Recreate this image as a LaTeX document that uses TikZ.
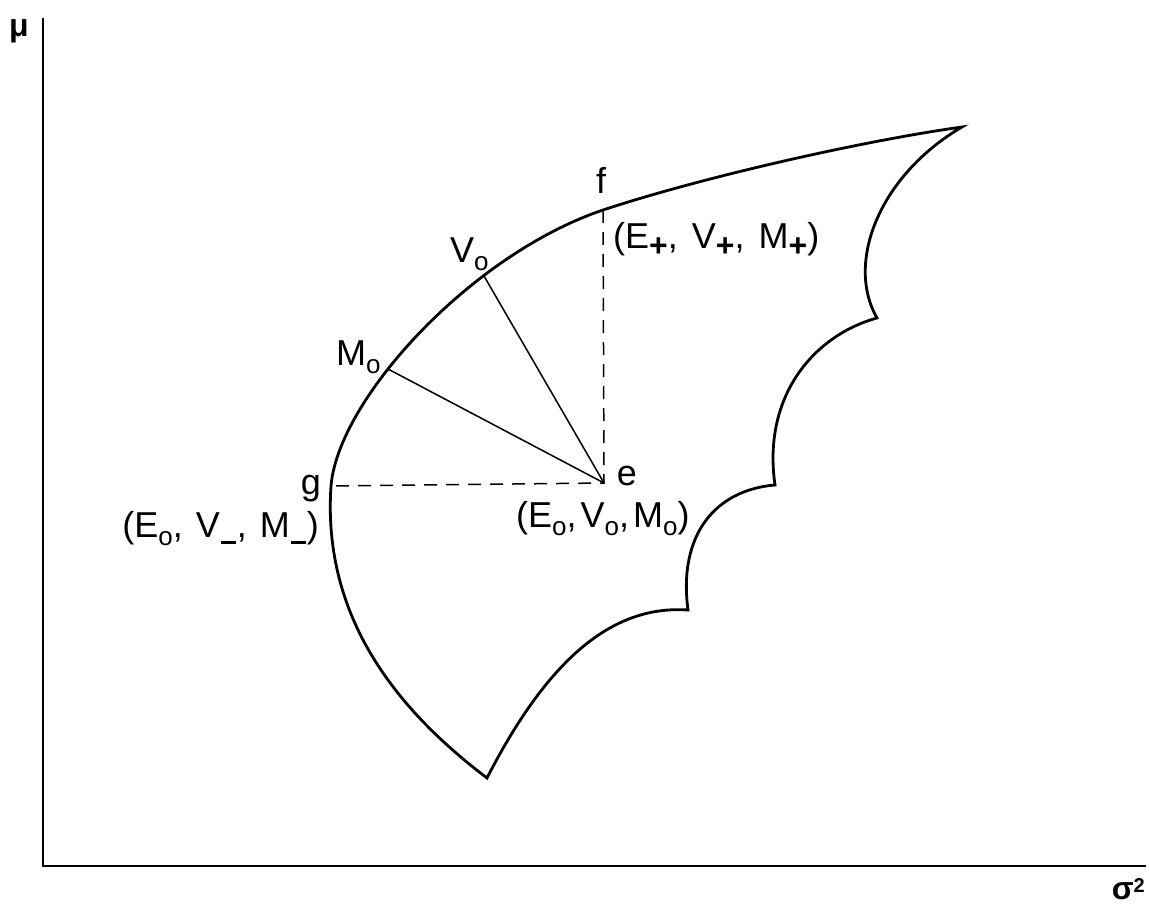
\documentclass[tikz,border=0pt]{standalone}
\usepackage{fontspec}
\setmainfont{Liberation Sans}
\newcommand{\subo}{\raisebox{-8pt}{\fontsize{26}{26}\selectfont o}}
\newcommand{\subp}{\raisebox{-8pt}{\fontsize{32}{32}\selectfont\bfseries +}}
\newcommand{\subm}{\kern1pt\rule[-7pt]{15pt}{3.4pt}\kern1pt}
\begin{document}
\begin{tikzpicture}[x=1pt,y=-1pt,
  outline/.style={line width=2.8pt,line join=miter},
  axis/.style={line width=2.6pt},
  thinline/.style={line width=1.5pt},
  dashline/.style={line width=1.5pt,dash pattern=on 13pt off 9pt},
  lbl/.style={inner sep=0pt,font=\fontsize{36}{40}\selectfont},
  axlbl/.style={inner sep=0pt,font=\fontsize{32}{36}\selectfont\bfseries}]
\useasboundingbox (0,0) rectangle (1149,907);
% axes
\coordinate (ytop) at (43,18);
\coordinate (O) at (43,866);
\coordinate (xend) at (1146,866);
\draw[axis] (ytop) -- (O) -- (xend);
\node[axlbl,anchor=base] (mu) at (19,37) {μ};
\node[axlbl,anchor=base east] (sig) at (1145,899) {σ\raisebox{7pt}{\fontsize{20}{20}\selectfont 2}};
% key points
\coordinate (f) at (603,210);
\coordinate (e) at (604,483);
\coordinate (g) at (331,486);
\coordinate (V0) at (484,276);
\coordinate (M0) at (388,369);
\coordinate (bot) at (487,778);
\coordinate (tip) at (962,127);
\coordinate (c1) at (877,318);
\coordinate (c2) at (775,485);
\coordinate (c3) at (688,610);
% outline
\draw[outline]
  (bot) .. controls (400,712) and (322,620) .. (g)
        .. controls (338,400) and (470,255) .. (f)
        .. controls (703,177) and (862,141) .. (tip)
        .. controls (880,175) and (845,262) .. (c1)
        .. controls (815,335) and (762,395) .. (c2)
        .. controls (715,490) and (678,535) .. (c3)
        .. controls (615,605) and (550,655) .. (bot) -- cycle;
% inner lines
\draw[dashline] (f) -- (e) -- (g);
\draw[thinline] (V0) -- (e);
\draw[thinline] (M0) -- (e);
% labels
\node[lbl,anchor=base] (flbl) at (601,193) {f};
\node[lbl,anchor=base] (elbl) at (627,485) {e};
\node[lbl,anchor=base] (glbl) at (311,494) {g};
\node[lbl,anchor=base west] (Vlbl) at (450,262) {V\subo};
\node[lbl,anchor=base west] (Mlbl) at (336,365) {M\subo};
\node[lbl,anchor=base west] (fp) at (613,248) {(E\subp,\kern14pt V\subp,\kern14pt M\subp)};
\node[lbl,anchor=base east] (gm) at (319,537) {(E\subo,\kern13pt V\subm,\kern13pt M\subm)};
\node[lbl,anchor=base west] (ez) at (516,527) {(E\subo,\kern4pt V\subo,\kern4pt M\subo)};
\end{tikzpicture}
\end{document}
